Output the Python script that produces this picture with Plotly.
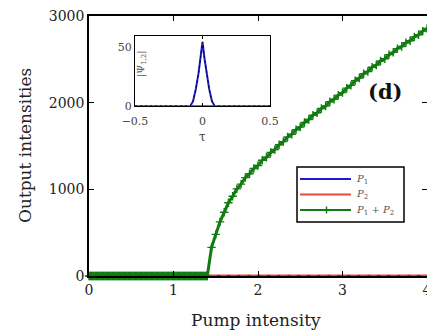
import plotly.graph_objects as go

# Pump intensity samples: dense grid below threshold, 0.05 steps above it
pump_below = [round(0.01 * i, 2) for i in range(140)]
pump_above = [round(1.40 + 0.05 * i, 2) for i in range(53)]
pump = pump_below + pump_above

# Output intensities of the two modes and their sum
p1 = [0] * len(pump)
p2 = [0] * len(pump_above)
p_sum = [0] * len(pump_below) + [
    0, 330, 480, 625, 735, 845, 920, 1005, 1060, 1135,
    1180, 1240, 1275, 1335, 1370, 1425, 1460, 1515, 1550, 1603,
    1636, 1688, 1720, 1772, 1806, 1855, 1884, 1932, 1961, 2010,
    2039, 2087, 2116, 2168, 2200, 2253, 2285, 2333, 2360, 2408,
    2435, 2481, 2507, 2554, 2580, 2624, 2648, 2691, 2715, 2759,
    2783, 2826, 2855,
]

# Inset: order parameter versus tau
tau = [-0.5, -0.09, -0.07, -0.05, -0.03, -0.015, 0, 0.015, 0.03, 0.05, 0.07, 0.09, 0.5]
psi = [0, 0, 4, 14, 27, 40, 54, 40, 27, 14, 4, 0, 0]
psi_zero = [0] * len(tau)

x_ticks = [0, 1, 2, 3, 4]
y_ticks = [0, 1000, 2000, 3000]
inset_x_ticks = [-0.5, 0, 0.5]
inset_y_ticks = [0, 50]

legend_labels = ["<i>P</i><sub>1</sub>", "<i>P</i><sub>2</sub>",
                 "<i>P</i><sub>1</sub> + <i>P</i><sub>2</sub>"]

FONT = "DejaVu Serif"
BLUE = "#1c1cc8"
RED = "#e8483c"
GREEN = "#107c10"

# plot-area pixel geometry, used to place the hand-drawn legend box
L, R, T, B = 89, 427, 16, 276


def px(x):
    return (x - L) / (R - L)


def py(y):
    return (B - y) / (B - T)


fig = go.Figure()

fig.add_trace(go.Scatter(x=pump, y=p1, mode="lines", name=legend_labels[0],
                         line=dict(color=BLUE, width=2), cliponaxis=False))
fig.add_trace(go.Scatter(x=pump_above, y=p2, mode="lines", name=legend_labels[1],
                         line=dict(color=RED, width=3), cliponaxis=False))
fig.add_trace(go.Scatter(x=pump_above, y=p2, mode="lines",
                         line=dict(color="black", width=1, dash="3px,7px"),
                         cliponaxis=False))
fig.add_trace(go.Scatter(x=pump, y=p_sum, mode="lines+markers", name=legend_labels[2],
                         line=dict(color=GREEN, width=3),
                         marker=dict(symbol="cross-thin", size=6,
                                     line=dict(color=GREEN, width=1.4)),
                         cliponaxis=False))

# Inset traces
fig.add_trace(go.Scatter(x=tau, y=psi, mode="lines", xaxis="x2", yaxis="y2",
                         line=dict(color=BLUE, width=2)))
fig.add_trace(go.Scatter(x=tau, y=psi_zero, mode="lines", xaxis="x2", yaxis="y2",
                         line=dict(color=RED, width=2)))
fig.add_trace(go.Scatter(x=tau, y=psi, mode="lines", xaxis="x2", yaxis="y2",
                         line=dict(color="black", width=1, dash="2px,3px")))

axis_common = dict(showgrid=False, zeroline=False, showline=True, linecolor="black",
                   linewidth=1.5, mirror="ticks", ticks="inside", ticklen=5,
                   tickcolor="black", tickwidth=1.2, automargin=False,
                   ticklabeloverflow="allow",
                   tickfont=dict(family=FONT, size=14, color="#222"))

# Legend drawn as a framed box with sample lines
legend_rows = [179, 194.5, 210]
legend_colors = [BLUE, RED, GREEN]
shapes = [dict(type="rect", xref="paper", yref="paper", x0=px(297), x1=px(404),
               y0=py(222), y1=py(167), line=dict(color="black", width=1.5),
               fillcolor="white", layer="above")]
annotations = []
for row, color, label in zip(legend_rows, legend_colors, legend_labels):
    shapes.append(dict(type="line", xref="paper", yref="paper", x0=px(300), x1=px(351),
                       y0=py(row), y1=py(row), line=dict(color=color, width=2),
                       layer="above"))
    annotations.append(dict(text=label, xref="paper", yref="paper", x=px(354), y=py(row),
                            xanchor="left", yanchor="middle", showarrow=False,
                            font=dict(family=FONT, size=10, color="#555")))
shapes.append(dict(type="line", xref="paper", yref="paper", x0=px(326.5), x1=px(326.5),
                   y0=py(legend_rows[2] - 3.5), y1=py(legend_rows[2] + 3.5),
                   line=dict(color=GREEN, width=1.5), layer="above"))

annotations += [
    dict(text="Output intensities", xref="paper", yref="paper", x=px(25), y=0.5,
         xanchor="center", yanchor="middle", textangle=-90, showarrow=False,
         font=dict(family=FONT, size=17, color="#222")),
    dict(text="Pump intensity", xref="paper", yref="paper", x=px(256), y=py(320),
         xanchor="center", yanchor="middle", showarrow=False,
         font=dict(family=FONT, size=17, color="#222")),
    dict(text="<b>(d)</b>", xref="paper", yref="paper", x=px(385), y=py(91),
         xanchor="center", yanchor="middle", showarrow=False,
         font=dict(family=FONT, size=21, color="#111")),
    dict(text="τ", xref="paper", yref="paper", x=px(202.5), y=py(137),
         xanchor="center", yanchor="middle", showarrow=False,
         font=dict(family=FONT, size=12, color="#444")),
    dict(text="|Ψ<sub>1,2</sub>|", xref="paper", yref="paper", x=px(141), y=py(64),
         xanchor="center", yanchor="middle", textangle=-90, showarrow=False,
         font=dict(family=FONT, size=10, color="#555")),
]

fig.update_layout(
    width=427, height=330, autosize=False,
    margin=dict(l=L, r=427 - R, t=T, b=330 - B, pad=0, autoexpand=False),
    paper_bgcolor="white", plot_bgcolor="white",
    showlegend=False,
    xaxis=dict(range=[0, 4], tickvals=x_ticks, **axis_common),
    yaxis=dict(range=[0, 3000], tickvals=y_ticks, **axis_common),
    xaxis2=dict(domain=[px(135), px(270)], anchor="y2", range=[-0.5, 0.5],
                tickvals=inset_x_ticks, showgrid=False, zeroline=False, showline=True,
                linecolor="black", linewidth=1.2, mirror="ticks", ticks="inside",
                ticklen=3, tickcolor="black", ticklabelstandoff=5, automargin=False,
                tickfont=dict(family=FONT, size=11, color="#444")),
    yaxis2=dict(domain=[py(106), py(36)], anchor="x2", range=[0, 59],
                tickvals=inset_y_ticks, showgrid=False, zeroline=False, showline=True,
                linecolor="black", linewidth=1.2, mirror=True, ticks="", automargin=False,
                tickfont=dict(family=FONT, size=11, color="#444")),
    shapes=shapes,
    annotations=annotations,
)

fig.write_html("out.html")
